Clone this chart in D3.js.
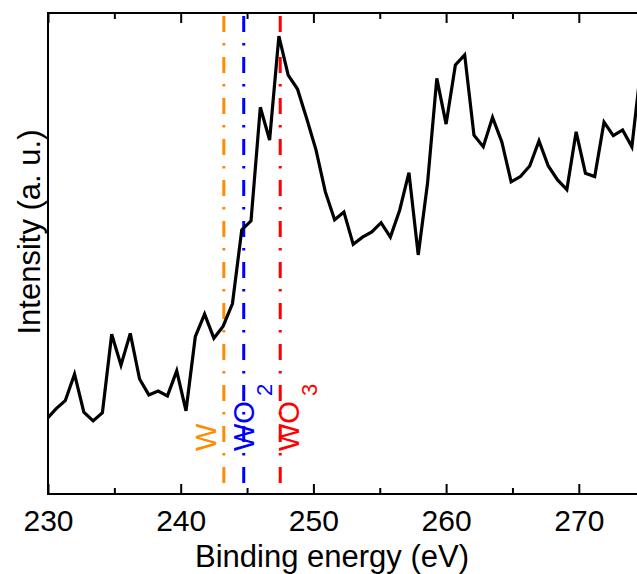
<!DOCTYPE html>
<html>
<head>
<meta charset="utf-8">
<script src="https://cdn.jsdelivr.net/npm/d3@7"></script>
<style>
  html, body { margin: 0; padding: 0; background: #fff; }
  svg { display: block; font-family: "Liberation Sans", Arial, sans-serif; }
</style>
</head>
<body>
<svg id="chart" width="637" height="574"></svg>
<script>
// ---- data ----
const energies = [229.9, 230.6, 231.3, 232.0, 232.7, 233.4, 234.1, 234.8, 235.5, 236.2,
  236.9, 237.6, 238.3, 239.0, 239.7, 240.4, 241.1, 241.8, 242.5, 243.2,
  243.9, 244.6, 245.3, 246.0, 246.7, 247.4, 248.1, 248.8, 249.5, 250.2,
  250.9, 251.6, 252.3, 253.0, 253.7, 254.4, 255.1, 255.8, 256.5, 257.2,
  257.9, 258.6, 259.3, 260.0, 260.7, 261.4, 262.1, 262.8, 263.5, 264.2,
  264.9, 265.6, 266.3, 267.0, 267.7, 268.4, 269.1, 269.8, 270.5, 271.2,
  271.9, 272.6, 273.3, 274.0, 274.7];
const intensity = [15.6, 17.7, 19.4, 24.9, 17.0, 15.2, 16.9, 33.2, 26.8, 33.4,
  23.9, 20.6, 21.4, 20.4, 25.6, 17.3, 32.7, 37.4, 32.4, 34.9,
  39.6, 54.9, 56.8, 80.4, 73.6, 95.2, 87.1, 84.2, 78.0, 71.5,
  62.8, 57.0, 58.6, 51.9, 53.4, 54.5, 56.4, 53.4, 59.0, 66.8,
  49.7, 64.6, 86.4, 76.9, 89.2, 91.3, 74.6, 72.2, 78.3, 73.2,
  64.9, 66.0, 68.2, 73.4, 68.2, 65.3, 63.3, 75.3, 66.7, 66.0,
  77.3, 74.5, 75.7, 72.2, 89.2];
const majorTicks = [230, 240, 250, 260, 270];
const minorTicks = [235, 245, 255, 265, 275];
const refNames = ["W", "WO", "WO"];
const refSubs = ["", "2", "3"];
const refEnergies = [243.25, 244.75, 247.5];
const refColors = ["#ff8c00", "#0000ff", "#ff0000"];
const xTitle = "Binding energy (eV)";
const yTitle = "Intensity (a. u.)";

// ---- layout ----
const pLeft = 48, pTop = 13, pBottom = 494;
const pxPerEv = 13.27;
const xMin = 230, xMax = 275;
const pRight = pLeft + pxPerEv * (xMax - xMin);
const labelOffsets = [-8, 10, 19];

const svg = d3.select("#chart");
const x = d3.scaleLinear().domain([xMin, xMax]).range([pLeft, pRight]);
const y = d3.scaleLinear().domain([0, 100]).range([pBottom, pTop]);

svg.append("defs").append("clipPath").attr("id", "plotclip")
  .append("rect").attr("x", pLeft).attr("y", pTop)
  .attr("width", pRight - pLeft).attr("height", pBottom - pTop);

// reference lines
svg.append("g").selectAll("line").data(refEnergies).join("line")
  .attr("x1", d => x(d)).attr("x2", d => x(d))
  .attr("y1", pTop).attr("y2", pBottom)
  .attr("stroke", (d, i) => refColors[i])
  .attr("stroke-width", 3)
  .attr("stroke-dasharray", "16,11,2.5,11.5")
  .attr("stroke-dashoffset", 38);

// data line
const line = d3.line().x((d, i) => x(energies[i])).y(d => y(d));
svg.append("path").datum(intensity)
  .attr("clip-path", "url(#plotclip)")
  .attr("d", line)
  .attr("fill", "none")
  .attr("stroke", "#000")
  .attr("stroke-width", 3.2)
  .attr("stroke-linejoin", "miter");

// axes: bottom
const xAxisB = d3.axisBottom(x).tickValues(majorTicks).tickSize(-10).tickPadding(16)
  .tickFormat(d3.format("d"));
const gB = svg.append("g").attr("transform", `translate(0,${pBottom})`).call(xAxisB);
gB.select(".domain").remove();
gB.selectAll("line").attr("stroke", "#000").attr("stroke-width", 2);
gB.selectAll("text").attr("font-size", 30).attr("fill", "#000")
  .attr("font-family", "Liberation Sans, Arial, sans-serif");
const gBm = svg.append("g").attr("transform", `translate(0,${pBottom})`)
  .call(d3.axisBottom(x).tickValues(minorTicks).tickSize(-6).tickFormat(""));
gBm.select(".domain").remove();
gBm.selectAll("line").attr("stroke", "#000").attr("stroke-width", 2);

// axes: top
const gT = svg.append("g").attr("transform", `translate(0,${pTop})`)
  .call(d3.axisTop(x).tickValues(majorTicks).tickSize(-10).tickFormat(""));
gT.select(".domain").remove();
gT.selectAll("line").attr("stroke", "#000").attr("stroke-width", 2);
const gTm = svg.append("g").attr("transform", `translate(0,${pTop})`)
  .call(d3.axisTop(x).tickValues(minorTicks).tickSize(-6).tickFormat(""));
gTm.select(".domain").remove();
gTm.selectAll("line").attr("stroke", "#000").attr("stroke-width", 2);

// frame
svg.append("path")
  .attr("d", `M${pRight},${pTop}H${pLeft}V${pBottom}H${pRight}`)
  .attr("fill", "none").attr("stroke", "#000").attr("stroke-width", 2);

// reference labels
refNames.forEach((name, i) => {
  const t = svg.append("text")
    .attr("transform", `translate(${x(refEnergies[i]) + labelOffsets[i]},451) rotate(-90)`)
    .attr("fill", refColors[i])
    .attr("font-size", 29)
    .text(name);
  if (refSubs[i]) {
    t.append("tspan").attr("font-size", 22).attr("dx", 5).attr("dy", 18).text(refSubs[i]);
  }
});

// titles
svg.append("text").attr("x", 332).attr("y", 567)
  .attr("text-anchor", "middle").attr("font-size", 31).attr("fill", "#000")
  .text(xTitle);
svg.append("text")
  .attr("transform", "translate(40,232) rotate(-90)")
  .attr("text-anchor", "middle").attr("font-size", 31).attr("fill", "#000")
  .text(yTitle);
</script>
</body>
</html>
